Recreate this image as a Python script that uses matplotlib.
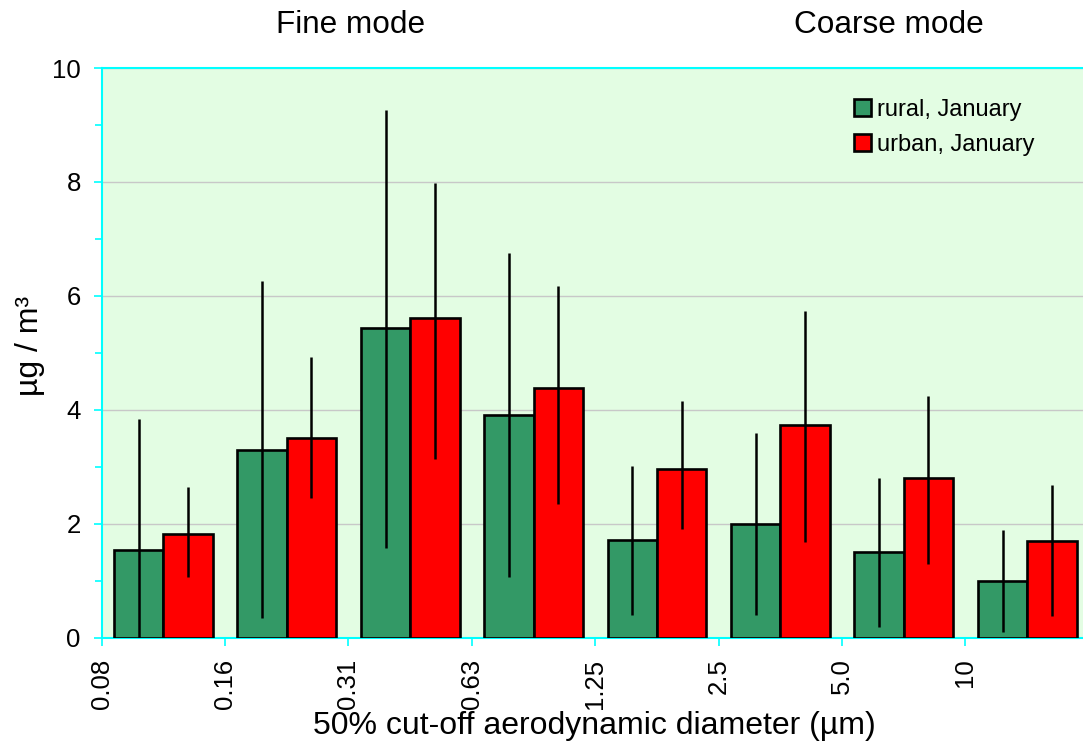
import matplotlib
matplotlib.use("Agg")
import matplotlib.pyplot as plt
import matplotlib.transforms as mtransforms
import numpy as np

plt.rcParams['font.family'] = ['Liberation Sans', 'DejaVu Sans']

# Impactor stages (lower cut-off diameter, µm)
stage_labels = ["0.08", "0.16", "0.31", "0.63", "1.25", "2.5", "5.0", "10"]

# Mass concentration per stage (µg/m³)
rural = [1.54, 3.30, 5.43, 3.91, 1.71, 2.00, 1.51, 1.00]
rural_err_low = [2.30, 2.96, 3.85, 2.85, 1.31, 1.61, 1.32, 0.90]
rural_err_high = [2.30, 2.96, 3.83, 2.85, 1.31, 1.59, 1.30, 0.89]

urban = [1.82, 3.50, 5.62, 4.39, 2.96, 3.73, 2.80, 1.69]
urban_err_low = [0.75, 1.05, 2.49, 2.04, 1.06, 2.05, 1.51, 1.31]
urban_err_high = [0.83, 1.42, 2.37, 1.79, 1.20, 2.00, 1.45, 0.99]

series_names = ["rural, January", "urban, January"]

W, H = 1083, 749
fig = plt.figure(figsize=(W / 100, H / 100), dpi=100)

ax_left, ax_right = 101.7, 1088.9
ax_top, ax_bottom = 68.0, 637.7
ax = fig.add_axes([ax_left / W, 1 - ax_bottom / H,
                   (ax_right - ax_left) / W, (ax_bottom - ax_top) / H])
ax.set_facecolor("#E3FDE3")

n = len(stage_labels)
idx = np.arange(n)
bw = 0.4

edge_lw = 1.9
ax.bar(idx + 0.1, rural, width=bw, align="edge", color="#339966",
       edgecolor="black", linewidth=edge_lw, zorder=3, label=series_names[0])
ax.bar(idx + 0.5, urban, width=bw, align="edge", color="#FF0000",
       edgecolor="black", linewidth=edge_lw, zorder=3, label=series_names[1])

ax.errorbar(idx + 0.3, rural, yerr=[rural_err_low, rural_err_high], fmt="none",
            ecolor="black", elinewidth=1.8, capsize=0, zorder=4)
ax.errorbar(idx + 0.7, urban, yerr=[urban_err_low, urban_err_high], fmt="none",
            ecolor="black", elinewidth=1.8, capsize=0, zorder=4)

ax.set_xlim(0, n)
ax.set_ylim(0, 10)

# y axis
ax.set_yticks([0, 2, 4, 6, 8, 10])
ax.set_yticks([1, 3, 5, 7, 9], minor=True)
ax.yaxis.grid(True, which="major", color="#C8C8C8", linewidth=1.0, zorder=0)
ax.set_axisbelow(True)

# x axis: ticks at stage boundaries
ax.set_xticks(np.arange(n + 1))
ax.set_xticklabels(stage_labels + [""], rotation=90, va="top", ha="center")
offset = mtransforms.ScaledTranslation(3 / 100, 0, fig.dpi_scale_trans)
for lbl in ax.get_xticklabels():
    lbl.set_transform(lbl.get_transform() + offset)

spine_color = "#00FFFF"
for side in ["left", "bottom", "top"]:
    ax.spines[side].set_color(spine_color)
    ax.spines[side].set_linewidth(1.5)
ax.spines["right"].set_visible(False)

ax.tick_params(axis="both", which="both", direction="out", color=spine_color,
               width=1.2, labelsize=18.5)
ax.tick_params(axis="y", which="major", length=6, pad=9)
ax.tick_params(axis="y", which="minor", length=5)
ax.tick_params(axis="x", which="major", length=6, pad=9)
ax.tick_params(top=False, right=False)

# labels
fig.text(594 / W, 1 - 726 / H, "50% cut-off aerodynamic diameter (µm)",
         ha="center", va="center", fontsize=23)
fig.text(30 / W, 1 - 346 / H, "µg / m³", rotation=90,
         ha="center", va="center", fontsize=23)

fig.text(351 / W, 1 - 25 / H, "Fine mode", ha="center", va="center", fontsize=22.7)
fig.text(889 / W, 1 - 25 / H, "Coarse mode", ha="center", va="center", fontsize=22.7)

ax.legend(loc="upper left", bbox_to_anchor=(854 / W, 1 - 99 / H),
          bbox_transform=fig.transFigure, frameon=False, fontsize=17,
          borderpad=0, borderaxespad=0, handlelength=0.7, handleheight=0.7,
          handletextpad=0.28, labelspacing=0.55)

fig.savefig("out.png", dpi=100)
